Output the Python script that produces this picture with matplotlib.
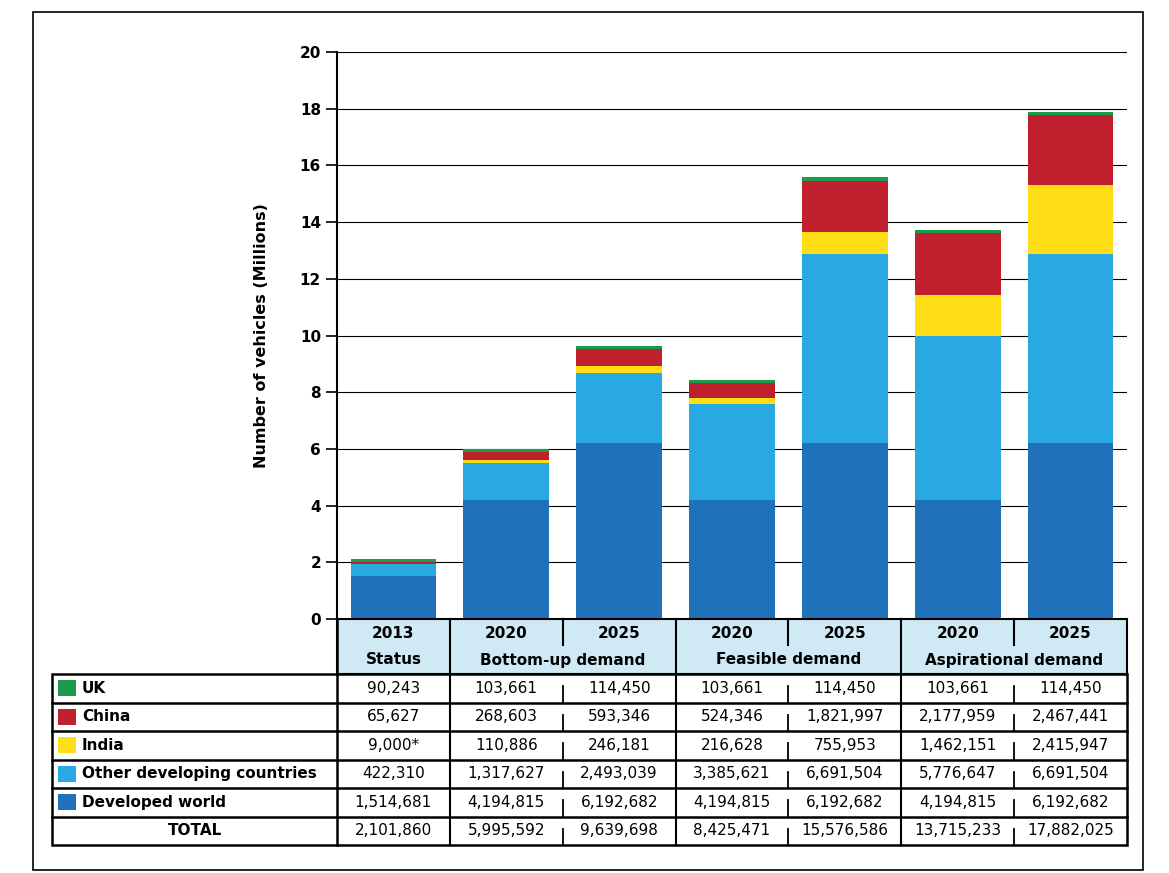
import matplotlib
matplotlib.use("Agg")
import matplotlib.pyplot as plt
from matplotlib.patches import Rectangle

years = ["2013", "2020", "2025", "2020", "2025", "2020", "2025"]
groups = ["Status", "Bottom-up demand", "Feasible demand", "Aspirational demand"]
group_spans = [1, 2, 2, 2]
series = ["UK", "China", "India", "Other developing countries", "Developed world"]
uk = [90243, 103661, 114450, 103661, 114450, 103661, 114450]
china = [65627, 268603, 593346, 524346, 1821997, 2177959, 2467441]
india = [9000, 110886, 246181, 216628, 755953, 1462151, 2415947]
other = [422310, 1317627, 2493039, 3385621, 6691504, 5776647, 6691504]
developed = [1514681, 4194815, 6192682, 4194815, 6192682, 4194815, 6192682]
total = [2101860, 5995592, 9639698, 8425471, 15576586, 13715233, 17882025]
india_labels = ["9,000*"] + [f"{v:,}" for v in india[1:]]
colors = {"UK": "#1a9a4a", "China": "#c0202e", "India": "#ffdd17",
          "Other developing countries": "#29a9e1", "Developed world": "#1f72b9"}

W, H = 1169, 873
fig = plt.figure(figsize=(W/100, H/100), dpi=100)
ax = fig.add_axes([337/W, 1-619/H, (1127-337)/W, (619-52)/H])
x = list(range(7))
stack_order = [("Developed world", developed), ("Other developing countries", other),
               ("India", india), ("China", china), ("UK", uk)]
bottom = [0]*7
for name, vals in stack_order:
    v = [a/1e6 for a in vals]
    ax.bar(x, v, 0.76, bottom=bottom, color=colors[name], zorder=3)
    bottom = [b+c for b, c in zip(bottom, v)]
ax.set_xlim(-0.5, 6.5)
ax.set_ylim(0, 20)
ax.set_yticks(range(0, 21, 2))
ax.tick_params(axis="y", length=8, width=1.2, labelsize=11)
for t in ax.get_yticklabels():
    t.set_fontweight("bold")
ax.set_xticks([])
ax.grid(axis="y", color="black", linewidth=0.8, zorder=0)
for s in ["top", "right", "bottom"]:
    ax.spines[s].set_visible(False)
ax.spines["left"].set_linewidth(1.5)
ax.set_ylabel("Number of vehicles (Millions)", fontsize=11.5, fontweight="bold", labelpad=22)

ov = fig.add_axes([0, 0, 1, 1], zorder=5)
ov.set_xlim(0, W); ov.set_ylim(H, 0); ov.axis("off")
ov.add_patch(Rectangle((33, 12), 1110, 858, fill=False, lw=1.2, ec="black"))

x0, x1 = 337, 1127
cw = (x1-x0)/7
ov.add_patch(Rectangle((x0, 619), x1-x0, 55, fc="#cfe9f5", ec="black", lw=1.5))
for i, yr in enumerate(years):
    ov.text(x0+cw*(i+0.5), 633, yr, ha="center", va="center", fontsize=11, fontweight="bold")
c = 0
for g, sp in zip(groups, group_spans):
    ov.text(x0+cw*(c+sp/2), 660, g, ha="center", va="center", fontsize=11, fontweight="bold")
    if c > 0:
        ov.plot([x0+cw*c]*2, [619, 845], color="black", lw=1.5)
    if sp == 2:
        ov.plot([x0+cw*(c+1)]*2, [619, 645], color="black", lw=1.5)
    c += sp

rows = [("UK", [f"{v:,}" for v in uk]), ("China", [f"{v:,}" for v in china]),
        ("India", india_labels), ("Other developing countries", [f"{v:,}" for v in other]),
        ("Developed world", [f"{v:,}" for v in developed]), ("TOTAL", [f"{v:,}" for v in total])]
top = 674; rh = 28.5
lx = 52
ov.add_patch(Rectangle((lx, top), x1-lx, rh*6, fill=False, ec="black", lw=1.8))
ov.plot([x0, x0], [619, top+rh*6], color="black", lw=1.8)
for r, (name, vals) in enumerate(rows):
    yc = top + rh*(r+0.5)
    if r > 0:
        ov.plot([lx, x1], [top+rh*r]*2, color="black", lw=1.8)
    if name in colors:
        ov.add_patch(Rectangle((58, yc-8), 18, 16, fc=colors[name], ec="none"))
        ov.text(82, yc, name, ha="left", va="center", fontsize=11, fontweight="bold")
    else:
        ov.text(195, yc, name, ha="center", va="center", fontsize=11, fontweight="bold")
    for i, v in enumerate(vals):
        ov.text(x0+cw*(i+0.5), yc, v, ha="center", va="center", fontsize=11)
    for i in (2, 4, 6):
        ov.plot([x0+cw*i]*2, [yc-2, top+rh*(r+1)], color="black", lw=1.3)

fig.savefig("out.png", dpi=100)
